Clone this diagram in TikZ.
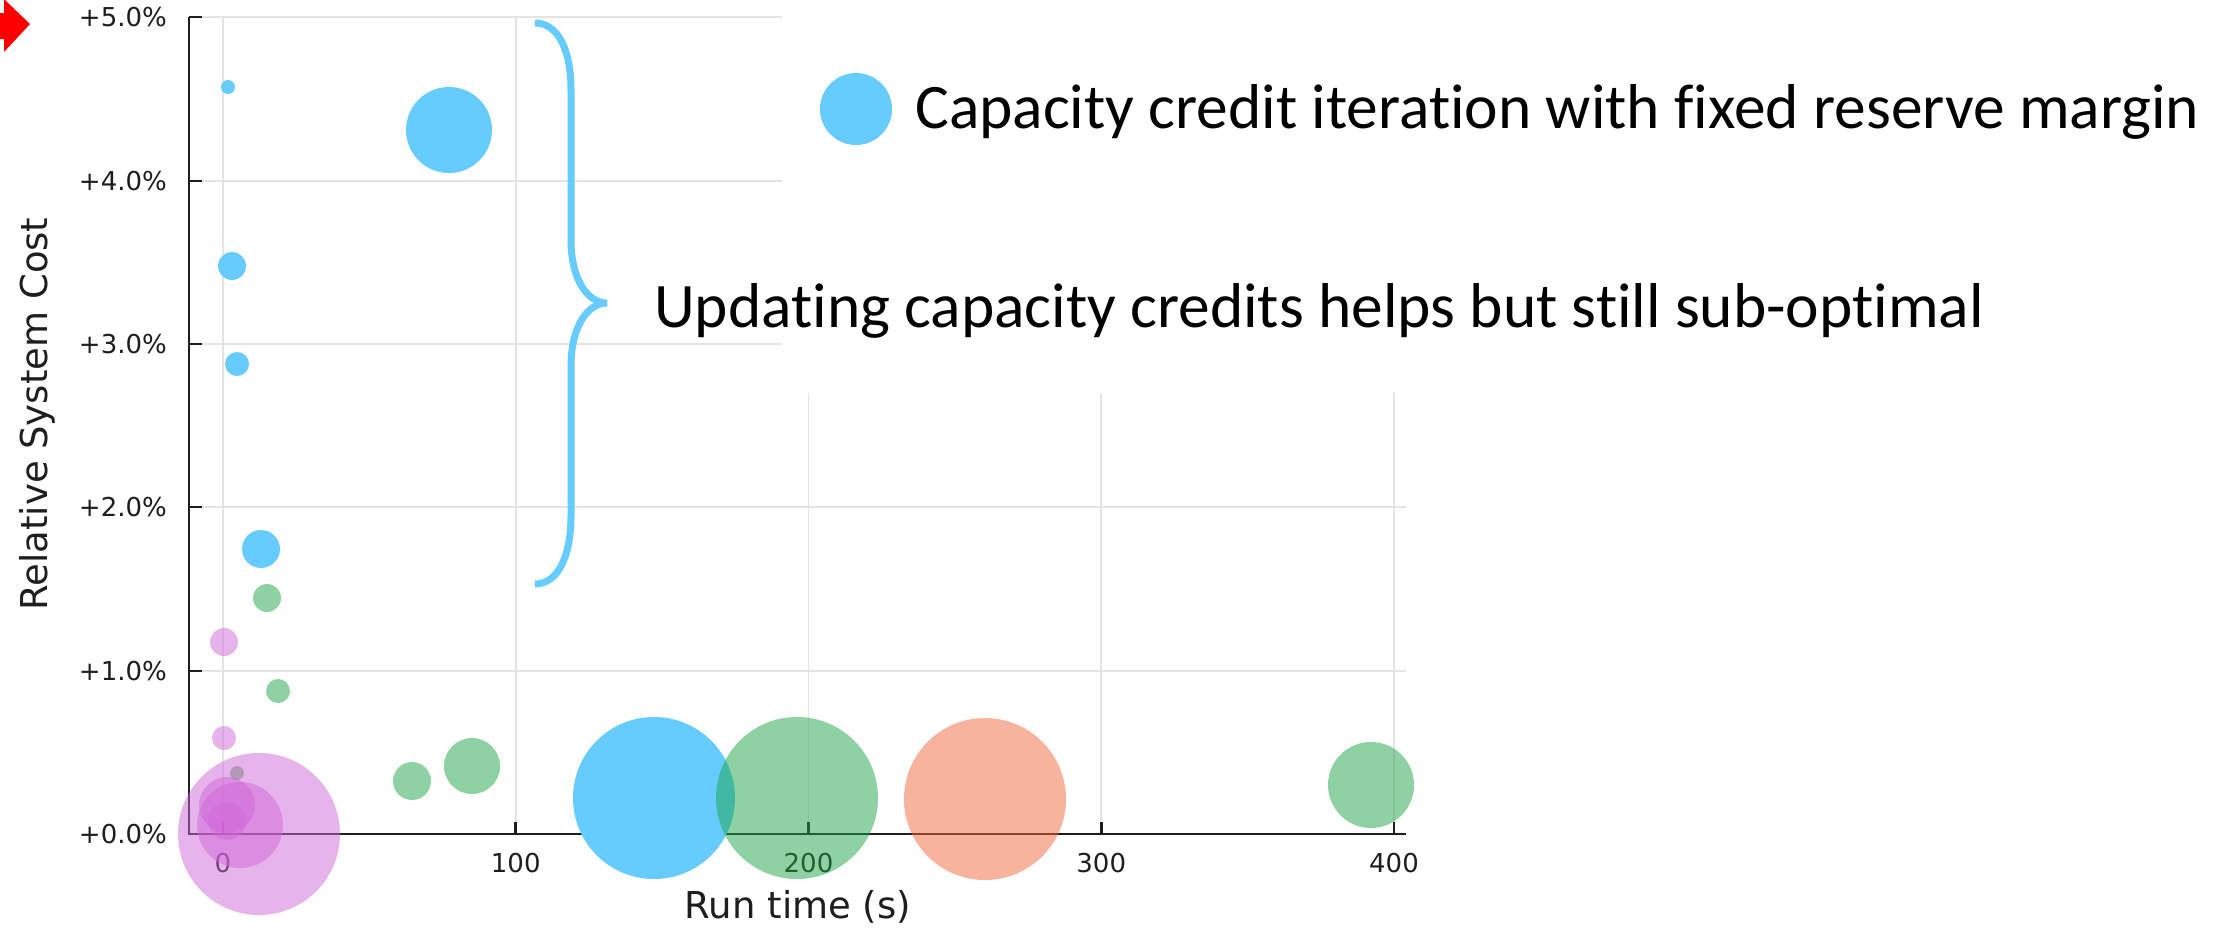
\documentclass[tikz,border=0pt]{standalone}
\usepackage{fontspec}
\setmainfont{DejaVu Sans}
\newfontfamily\calib[Ligatures=NoCommon]{Carlito}
\definecolor{cblue}{RGB}{102,204,255}
\definecolor{cgreen}{RGB}{30,165,70}
\definecolor{cpink}{RGB}{209,105,217}
\definecolor{csalmon}{RGB}{243,105,65}
\definecolor{cgrid}{RGB}{228,228,228}
\definecolor{caxis}{RGB}{30,30,30}
\begin{document}
\begin{tikzpicture}[x=1pt,y=-1pt,
  gridline/.style={draw=cgrid,line width=1.6pt},
  axisline/.style={draw=caxis,line width=2.6pt},
  ticklbl/.style={inner sep=0pt,font=\fontsize{26}{30}\selectfont,text=caxis},
  axlbl/.style={inner sep=0pt,font=\fontsize{37}{42}\selectfont,text=caxis},
  bigtext/.style={inner sep=0pt,font=\calib\fontsize{63.4}{70}\selectfont,anchor=base west},
  bluedot/.style={fill=cblue},
  greendot/.style={fill=cgreen,fill opacity=0.5},
  pinkdot/.style={fill=cpink,fill opacity=0.5},
  graydot/.style={fill=gray,fill opacity=0.5},
  salmondot/.style={fill=csalmon,fill opacity=0.5}]
\useasboundingbox (0,0) rectangle (2234,927);
\fill[white] (0,0) rectangle (2234,927);
% red arrow marker (cut at left edge)
\fill[red] (0,13) -- (4,13) -- (4,-1) -- (30,24) -- (4,52) -- (4,39) -- (0,39) -- cycle;
% grid
\foreach \y in {17,181,344} \draw[gridline] (189,\y) -- (782,\y);
\foreach \y in {507,671} \draw[gridline] (189,\y) -- (1406,\y);
\foreach \x in {223,515.75} \draw[gridline] (\x,17) -- (\x,834);
\foreach \x in {808.5,1101.25,1394} \draw[gridline] (\x,393) -- (\x,834);
% axes
\draw[axisline] (189,17) -- (189,834) -- (1406,834);
\foreach \y in {17,181,344,507,671,834} \draw[axisline] (189,\y) -- (202,\y);
\foreach \x in {223,515.75,808.5,1101.25,1394} \draw[axisline] (\x,834) -- (\x,822);
% tick labels
\node[ticklbl,anchor=base east] (y5) at (167,26.5) {+5.0\%};
\node[ticklbl,anchor=base east] (y4) at (167,190.5) {+4.0\%};
\node[ticklbl,anchor=base east] (y3) at (167,353.5) {+3.0\%};
\node[ticklbl,anchor=base east] (y2) at (167,516.5) {+2.0\%};
\node[ticklbl,anchor=base east] (y1) at (167,680.5) {+1.0\%};
\node[ticklbl,anchor=base east] (y0) at (167,843.5) {+0.0\%};
\node[ticklbl,anchor=base] (x0) at (223,872) {0};
\node[ticklbl,anchor=base] (x1) at (515.75,872) {100};
\node[ticklbl,anchor=base] (x2) at (808.5,872) {200};
\node[ticklbl,anchor=base] (x3) at (1101.25,872) {300};
\node[ticklbl,anchor=base] (x4) at (1394,872) {400};
\node[axlbl,anchor=base] (xlab) at (798,918) {Run time (s)};
\node[axlbl,anchor=base,rotate=90] (ylab) at (47,414) {Relative System Cost};
% pink series
\path[pinkdot] (224,642) circle[radius=14];
\path[pinkdot] (224,738) circle[radius=12];
\path[pinkdot] (259,834) circle[radius=81];
\path[pinkdot] (240,825) circle[radius=43];
\path[pinkdot] (227,805) circle[radius=28];
\path[pinkdot] (227,821) circle[radius=19];
\path[graydot] (237,773) circle[radius=7];
% green series
\path[greendot] (267,598) circle[radius=14];
\path[greendot] (278,691) circle[radius=12];
\path[greendot] (412,781) circle[radius=19];
\path[greendot] (472,766) circle[radius=28];
\path[greendot] (1371,785) circle[radius=43];
% blue series
\path[bluedot] (228,87) circle[radius=7];
\path[bluedot] (449,130) circle[radius=43];
\path[bluedot] (232,266) circle[radius=14];
\path[bluedot] (237,364) circle[radius=12];
\path[bluedot] (261,549) circle[radius=19];
\path[bluedot] (654,798) circle[radius=81];
\path[greendot] (797,798) circle[radius=81];
% salmon
\path[salmondot] (985,799) circle[radius=81];
% brace
\draw[cblue,line width=7pt] (535,23) .. controls (558,23) and (571,50) .. (571,90)
  -- (571,240) .. controls (571,280) and (588,303) .. (607,303)
  .. controls (588,303) and (571,326) .. (571,366)
  -- (571,516) .. controls (571,556) and (558,584) .. (535,584);
% legend
\path[bluedot] (856,109) circle[radius=36];
\node[bigtext] (leg) at (915,128) {Capacity credit iteration with fixed reserve margin};
\node[bigtext] (note) at (654,327) {Updating capacity credits helps but still sub-optimal};
\end{tikzpicture}
\end{document}
